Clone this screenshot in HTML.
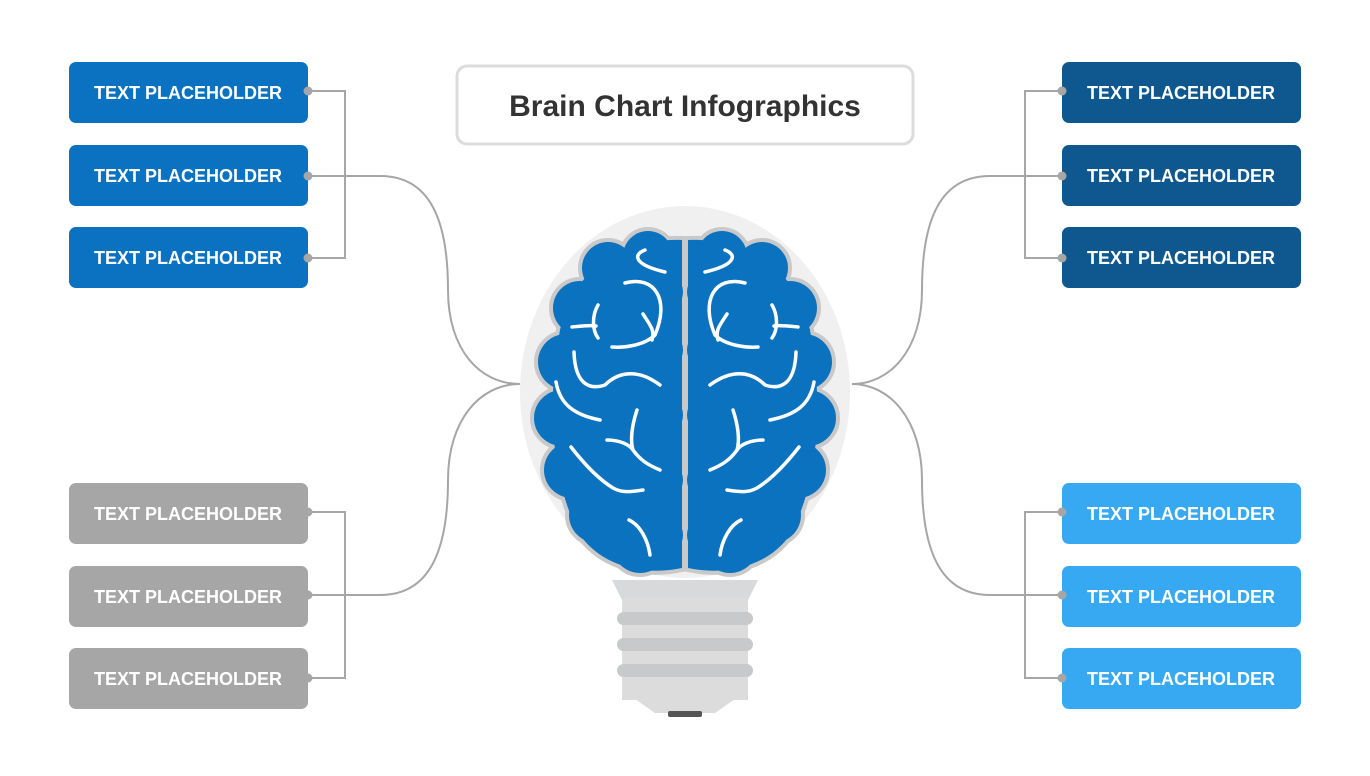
<!DOCTYPE html>
<html><head><meta charset="utf-8"><style>
html,body{margin:0;padding:0;background:#fff;}
body{width:1370px;height:771px;overflow:hidden;}
text{font-family:"Liberation Sans",sans-serif;}
</style></head><body>
<svg width="1370" height="771" viewBox="0 0 1370 771" xmlns="http://www.w3.org/2000/svg">
<defs>
<g id="hemi">
 <path d="M682 240 C630 238 575 262 560 330 C547 400 550 480 580 535 C605 570 650 575 682 568 Z"/>
 <circle cx="648" cy="256" r="25"/>
 <circle cx="608" cy="268" r="26"/>
 <circle cx="580" cy="308" r="27"/>
 <circle cx="566" cy="362" r="28"/>
 <circle cx="562" cy="418" r="28"/>
 <circle cx="572" cy="470" r="28"/>
 <circle cx="597" cy="515" r="28"/>
 <circle cx="640" cy="545" r="28"/>
 <circle cx="662" cy="292" r="21"/>
 <circle cx="662" cy="350" r="21"/>
 <circle cx="662" cy="415" r="21"/>
 <circle cx="662" cy="480" r="21"/>
 <circle cx="662" cy="535" r="21"/>
</g>
<g id="sulci" fill="none" stroke="#fff" stroke-width="3.5" stroke-linecap="round">
 <path d="M645 250 C632 255 635 265 665 272"/>
 <path d="M625 283 C655 275 670 300 655 335 C645 345 625 348 612 347"/>
 <path d="M643 314 C650 325 655 330 652 340"/>
 <path d="M598 305 C592 315 592 330 598 338"/>
 <path d="M572 327 C582 326 590 325 596 326"/>
 <path d="M574 352 C575 385 590 390 605 385 C620 370 640 370 660 385"/>
 <path d="M556 382 C560 405 575 415 600 420"/>
 <path d="M637 410 C632 425 630 440 633 450"/>
 <path d="M607 440 C620 440 630 445 633 450 C640 460 648 465 660 470"/>
 <path d="M571 447 C585 465 600 480 613 488 C622 493 630 492 643 490"/>
 <path d="M629 520 C640 525 648 540 650 555"/>
</g>
</defs>

<rect x="457" y="66" width="456" height="78" rx="10" fill="#fff" stroke="#dcdcdc" stroke-width="3"/>
<text x="685" y="116" text-anchor="middle" font-size="30" font-weight="bold" fill="#333">Brain Chart Infographics</text>

<g fill="none" stroke="#a6a6a6" stroke-width="2">
 <path d="M308 91 H345 V258 H308"/>
 <path d="M308 176 H380 C430 176 448 220 448 290 C448 350 480 384 520 384"/>
 <path d="M308 512 H345 V678 H308"/>
 <path d="M308 595 H380 C430 595 448 550 448 480 C448 420 480 384 520 384"/>
 <path d="M1062 91 H1025 V258 H1062"/>
 <path d="M1062 176 H990 C940 176 922 220 922 290 C922 350 890 384 852 384"/>
 <path d="M1062 512 H1025 V678 H1062"/>
 <path d="M1062 595 H990 C940 595 922 550 922 480 C922 420 890 384 852 384"/>
</g>

<ellipse cx="685" cy="392" rx="165" ry="186" fill="#f0f0f0"/>
<path d="M612 580 H758 L748 600 H622 Z" fill="#d8d9da"/>
<rect x="622" y="598" width="126" height="102" fill="#dcdcdc"/>
<rect x="617" y="612" width="136" height="13" rx="6.5" fill="#c8c9ca"/>
<rect x="617" y="638" width="136" height="13" rx="6.5" fill="#c8c9ca"/>
<rect x="617" y="664" width="136" height="13" rx="6.5" fill="#c8c9ca"/>
<path d="M622 690 H748 L715 713 H655 Z" fill="#dcdcdc"/>
<rect x="668" y="711" width="34" height="6" rx="2" fill="#555"/>

<g fill="#c9c9c9" stroke="#c9c9c9" stroke-width="8"><use href="#hemi"/><use href="#hemi" transform="translate(1370,0) scale(-1,1)"/></g>
<g fill="#0b72bf" stroke="none"><use href="#hemi"/><use href="#hemi" transform="translate(1370,0) scale(-1,1)"/></g>
<use href="#sulci"/>
<use href="#sulci" transform="translate(1370,0) scale(-1,1)"/>

<g font-size="18" font-weight="bold" fill="#fff" text-anchor="middle">
 <rect x="69" y="62" width="239" height="61" rx="7" fill="#0a72c0"/>
 <rect x="69" y="145" width="239" height="61" rx="7" fill="#0a72c0"/>
 <rect x="69" y="227" width="239" height="61" rx="7" fill="#0a72c0"/>
 <rect x="69" y="483" width="239" height="61" rx="7" fill="#a6a6a6"/>
 <rect x="69" y="566" width="239" height="61" rx="7" fill="#a6a6a6"/>
 <rect x="69" y="648" width="239" height="61" rx="7" fill="#a6a6a6"/>
 <rect x="1062" y="62" width="239" height="61" rx="7" fill="#0f588f"/>
 <rect x="1062" y="145" width="239" height="61" rx="7" fill="#0f588f"/>
 <rect x="1062" y="227" width="239" height="61" rx="7" fill="#0f588f"/>
 <rect x="1062" y="483" width="239" height="61" rx="7" fill="#36a9f2"/>
 <rect x="1062" y="566" width="239" height="61" rx="7" fill="#36a9f2"/>
 <rect x="1062" y="648" width="239" height="61" rx="7" fill="#36a9f2"/>
 <text x="188" y="99">TEXT PLACEHOLDER</text>
 <text x="188" y="182">TEXT PLACEHOLDER</text>
 <text x="188" y="264">TEXT PLACEHOLDER</text>
 <text x="188" y="520">TEXT PLACEHOLDER</text>
 <text x="188" y="603">TEXT PLACEHOLDER</text>
 <text x="188" y="685">TEXT PLACEHOLDER</text>
 <text x="1181" y="99">TEXT PLACEHOLDER</text>
 <text x="1181" y="182">TEXT PLACEHOLDER</text>
 <text x="1181" y="264">TEXT PLACEHOLDER</text>
 <text x="1181" y="520">TEXT PLACEHOLDER</text>
 <text x="1181" y="603">TEXT PLACEHOLDER</text>
 <text x="1181" y="685">TEXT PLACEHOLDER</text>
</g>
<g fill="#a6a6a6">
 <circle cx="308" cy="91" r="4.5"/><circle cx="308" cy="176" r="4.5"/><circle cx="308" cy="258" r="4.5"/>
 <circle cx="308" cy="512" r="4.5"/><circle cx="308" cy="595" r="4.5"/><circle cx="308" cy="678" r="4.5"/>
 <circle cx="1062" cy="91" r="4.5"/><circle cx="1062" cy="176" r="4.5"/><circle cx="1062" cy="258" r="4.5"/>
 <circle cx="1062" cy="512" r="4.5"/><circle cx="1062" cy="595" r="4.5"/><circle cx="1062" cy="678" r="4.5"/>
</g>
</svg>
</body></html>
